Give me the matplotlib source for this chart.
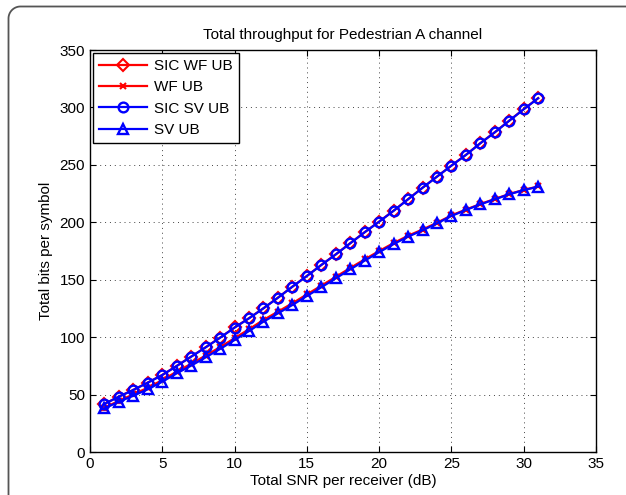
"""
Total throughput vs SNR for the Pedestrian A channel (upper bounds).
"""

import numpy as np
import matplotlib
matplotlib.use("Agg")
import matplotlib.pyplot as plt

# ---------------------------------------------------------------------------
# Data
# ---------------------------------------------------------------------------
snr_db = list(range(1, 32))

sic_sv_ub = [41.8, 48.2, 54.0, 60.4, 67.0, 74.9, 83.0, 91.1, 99.5, 108.3,
             116.4, 125.1, 134.3, 143.9, 153.2, 162.8, 172.0, 181.7, 191.3, 200.5,
             210.0, 220.0, 230.0, 239.7, 249.3, 258.6, 268.8, 278.3, 288.4, 298.4,
             308.0]
sic_wf_ub = [41.9, 48.3, 54.1, 60.5, 67.1, 75.0, 83.1, 91.2, 99.6, 108.4,
             116.5, 125.2, 134.4, 144.0, 153.3, 162.9, 172.1, 181.8, 191.4, 200.6,
             210.1, 220.1, 230.1, 239.8, 249.4, 258.7, 268.9, 278.4, 288.5, 298.5,
             308.1]
sv_ub = [38.0, 43.8, 49.0, 54.6, 61.2, 68.5, 75.2, 82.4, 89.7, 97.5,
         105.3, 113.5, 120.7, 128.0, 135.8, 143.4, 151.2, 159.0, 166.6, 174.0,
         181.0, 187.5, 193.0, 199.0, 205.5, 210.7, 215.6, 220.0, 224.4, 228.0,
         231.0]
wf_ub = [38.5, 44.6, 50.2, 56.0, 62.6, 70.0, 76.8, 84.0, 91.3, 99.1,
         106.9, 115.0, 122.2, 129.5, 137.2, 144.8, 152.5, 160.2, 167.7, 175.0,
         181.9, 188.3, 193.7, 199.6, 206.0, 211.1, 215.9, 220.3, 224.6, 228.2,
         231.2]

# ---------------------------------------------------------------------------
# Plot
# ---------------------------------------------------------------------------
plt.rcParams["font.family"] = ["Liberation Sans", "DejaVu Sans"]
plt.rcParams["font.size"] = 11

fig = plt.figure(figsize=(6.26, 4.95), dpi=100)

# journal-style rounded frame, only its top and left edges fall in the image
bg = fig.add_axes([0, 0, 1, 1])
bg.set_xlim(0, 626)
bg.set_ylim(495, 0)
bg.axis("off")
r = 12
arc = np.linspace(np.pi, 1.5 * np.pi, 30)
fx = np.concatenate([[8.5, 8.5], 8.5 + r + r * np.cos(arc), [626]])
fy = np.concatenate([[500, 6.5 + r], 6.5 + r + r * np.sin(arc), [6.5]])
bg.plot(fx, fy, color="#555555", lw=1.3, clip_on=False)

ax = fig.add_axes([90 / 626, 43 / 495, 506 / 626, 402 / 495])

ax.plot(snr_db, sic_wf_ub, "r-", marker="D", ms=6, mew=1.5, mfc="none",
        lw=1.6, label="SIC WF UB")
ax.plot(snr_db, wf_ub, "r-", marker="x", ms=4, mew=1.5,
        lw=1.6, label="WF UB")
ax.plot(snr_db, sic_sv_ub, "b-", marker="o", ms=7, mew=1.7, mfc="none",
        lw=1.6, label="SIC SV UB")
ax.plot(snr_db, sv_ub, "b-", marker="^", ms=7.5, mew=1.7, mfc="none",
        lw=1.6, label="SV UB")

ax.set_xlim(0, 35)
ax.set_ylim(0, 350)
ax.set_xticks(range(0, 36, 5))
ax.set_yticks(range(0, 351, 50))
ax.tick_params(direction="in", top=True, right=True, length=4, labelsize=11)
ax.grid(True, linestyle=(0, (1, 4)), color="#444444", lw=0.7)
for s in ax.spines.values():
    s.set_linewidth(1.0)

ax.set_title("Total throughput for Pedestrian A channel", fontsize=11, pad=8)
ax.set_xlabel("Total SNR per receiver (dB)", fontsize=11, labelpad=2)
ax.set_ylabel("Total bits per symbol", fontsize=11, labelpad=5)

leg = ax.legend(loc="upper left", fontsize=11, fancybox=False, framealpha=1,
                edgecolor="black", handlelength=3.1, labelspacing=0.48,
                borderaxespad=0.2, borderpad=0.4, handletextpad=0.5)
leg.get_frame().set_linewidth(1.0)

plt.savefig("out.png", dpi=100)
